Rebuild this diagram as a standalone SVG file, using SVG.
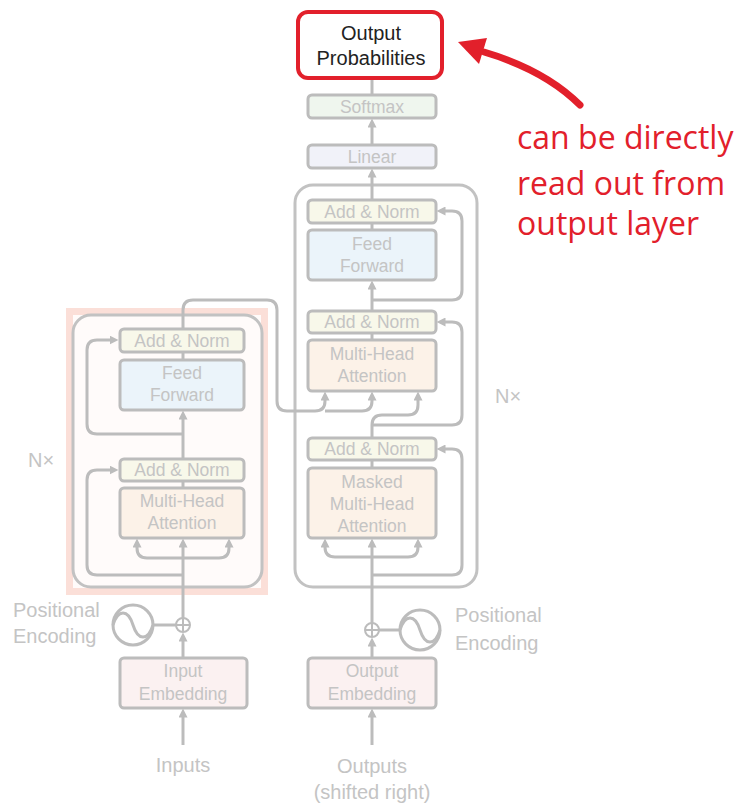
<svg xmlns="http://www.w3.org/2000/svg" width="741" height="803" viewBox="0 0 741 803">
<style>
.box{stroke:#bcbcbc;stroke-width:3}
.an{fill:#f8f8ea}
.ff{fill:#ebf4fa}
.mha{fill:#fcf2e8}
.emb{fill:#fbf1f1}
.outer{fill:none;stroke:#c2c2c2;stroke-width:3}
.t{font-family:"Liberation Sans",Arial,sans-serif;font-size:17.5px;fill:#c4c4c4;text-anchor:middle}
.lbl{font-family:"Liberation Sans",Arial,sans-serif;font-size:20px;fill:#c4c4c4}
.c{fill:none;stroke:#bcbcbc;stroke-width:3}
.red{font-family:"Open Sans",sans-serif;font-size:32px;fill:#e2202b}
</style>
<defs>
<marker id="ah" viewBox="0 0 10 10" refX="5" refY="5" markerWidth="9" markerHeight="9" markerUnits="userSpaceOnUse" orient="auto">
<path d="M0,0 L10,5 L0,10 z" fill="#bcbcbc"/>
</marker>
</defs>
<rect width="741" height="803" fill="#ffffff"/>

<g id="encoder-highlight">
<rect x="69.5" y="311.5" width="195" height="280" fill="#fffbfa" stroke="#fbdfd8" stroke-width="7"/>
</g>
<g id="encoder-outer"><rect class="outer" x="73" y="315" width="189" height="272" rx="18"/></g>
<g id="decoder-outer"><rect class="outer" x="295" y="185" width="182" height="402" rx="18"/></g>

<g id="connectors">
<path class="c" d="M183,745 V713" marker-end="url(#ah)"/>
<path class="c" d="M183,658 V637" marker-end="url(#ah)"/>
<path class="c" d="M183,618 V543" marker-end="url(#ah)"/>
<path class="c" d="M183,558 H147 Q137,558 137,548 V543" marker-end="url(#ah)"/>
<path class="c" d="M183,558 H219 Q229,558 229,548 V543" marker-end="url(#ah)"/>
<path class="c" d="M183,575 H97 Q87,575 87,565 V480 Q87,470 97,470 H114" marker-end="url(#ah)"/>
<path class="c" d="M183,488 V481"/>
<path class="c" d="M183,459 V415" marker-end="url(#ah)"/>
<path class="c" d="M183,434 H97 Q87,434 87,424 V350 Q87,340 97,340 H114" marker-end="url(#ah)"/>
<path class="c" d="M183,360 V352"/>
<path class="c" d="M183,329 V310 Q183,300 193,300 H267 Q277,300 277,310 V401 Q277,411 287,411 H315 Q325,411 325,401 V396" marker-end="url(#ah)"/>
<path class="c" d="M325,411 H362 Q372,411 372,401 V396" marker-end="url(#ah)"/>
<path class="c" d="M153,625 H176"/>
<path class="c" d="M372,745 V713" marker-end="url(#ah)"/>
<path class="c" d="M372,658 V642" marker-end="url(#ah)"/>
<path class="c" d="M372,623 V543" marker-end="url(#ah)"/>
<path class="c" d="M372,557 H335 Q325,557 325,547 V543" marker-end="url(#ah)"/>
<path class="c" d="M372,557 H408 Q418,557 418,547 V543" marker-end="url(#ah)"/>
<path class="c" d="M372,575 H452 Q462,575 462,565 V459 Q462,449 452,449 H441" marker-end="url(#ah)"/>
<path class="c" d="M372,468 V460"/>
<path class="c" d="M372,438 V425 Q372,415 382,415 H408 Q418,415 418,405 V396" marker-end="url(#ah)"/>
<path class="c" d="M372,425 H452 Q462,425 462,415 V332 Q462,322 452,322 H441" marker-end="url(#ah)"/>
<path class="c" d="M372,340 V333"/>
<path class="c" d="M372,311 V285" marker-end="url(#ah)"/>
<path class="c" d="M372,300 H452 Q462,300 462,290 V221 Q462,211 452,211 H441" marker-end="url(#ah)"/>
<path class="c" d="M372,230 V223"/>
<path class="c" d="M372,200 V173" marker-end="url(#ah)"/>
<path class="c" d="M372,145 V123" marker-end="url(#ah)"/>
<path class="c" d="M372,95 V78"/>
<path class="c" d="M379,630 H400"/>
</g>

<g id="enc-add-norm-2"><rect class="box an" x="120" y="329" width="124" height="23" rx="4"/><text class="t" x="182" y="347">Add &amp; Norm</text></g>
<g id="enc-feed-forward"><rect class="box ff" x="120" y="360" width="124" height="50" rx="4"/><text class="t" x="182" y="379">Feed</text><text class="t" x="182" y="401">Forward</text></g>
<g id="enc-add-norm-1"><rect class="box an" x="120" y="459" width="124" height="22" rx="4"/><text class="t" x="182" y="476">Add &amp; Norm</text></g>
<g id="enc-mha"><rect class="box mha" x="120" y="488" width="124" height="50" rx="4"/><text class="t" x="182" y="507">Multi-Head</text><text class="t" x="182" y="529">Attention</text></g>
<g id="input-embedding"><rect class="box emb" x="120" y="658" width="127" height="50" rx="4"/><text class="t" x="183" y="677">Input</text><text class="t" x="183" y="700">Embedding</text></g>

<g id="enc-pos-enc">
<circle cx="133" cy="625" r="20" fill="#ffffff" stroke="#bcbcbc" stroke-width="3"/>
<path d="M113,625 C118,609 128,609 133,625 C138,641 148,641 153,625" fill="none" stroke="#bcbcbc" stroke-width="3"/>
<text class="lbl" x="13" y="617">Positional</text>
<text class="lbl" x="13" y="643">Encoding</text>
</g>
<g id="enc-add">
<circle cx="183" cy="625" r="7" fill="#ffffff" stroke="#bcbcbc" stroke-width="2"/>
<path d="M176,625 H190 M183,618 V632" stroke="#bcbcbc" stroke-width="2"/>
</g>

<g id="dec-add-norm-3"><rect class="box an" x="308" y="200" width="128" height="23" rx="4"/><text class="t" x="372" y="218">Add &amp; Norm</text></g>
<g id="dec-feed-forward"><rect class="box ff" x="308" y="230" width="128" height="50" rx="4"/><text class="t" x="372" y="250">Feed</text><text class="t" x="372" y="272">Forward</text></g>
<g id="dec-add-norm-2"><rect class="box an" x="308" y="311" width="128" height="22" rx="4"/><text class="t" x="372" y="328">Add &amp; Norm</text></g>
<g id="dec-mha"><rect class="box mha" x="308" y="340" width="128" height="51" rx="4"/><text class="t" x="372" y="360">Multi-Head</text><text class="t" x="372" y="382">Attention</text></g>
<g id="dec-add-norm-1"><rect class="box an" x="308" y="438" width="128" height="22" rx="4"/><text class="t" x="372" y="455">Add &amp; Norm</text></g>
<g id="dec-masked-mha"><rect class="box mha" x="308" y="468" width="128" height="70" rx="4"/><text class="t" x="372" y="488">Masked</text><text class="t" x="372" y="510">Multi-Head</text><text class="t" x="372" y="532">Attention</text></g>
<g id="output-embedding"><rect class="box emb" x="308" y="658" width="128" height="50" rx="4"/><text class="t" x="372" y="677">Output</text><text class="t" x="372" y="700">Embedding</text></g>
<g id="linear"><rect class="box" fill="#f1f2f9" x="308" y="145" width="128" height="23" rx="4"/><text class="t" x="372" y="163">Linear</text></g>
<g id="softmax"><rect class="box" fill="#eff6ee" x="308" y="95" width="128" height="23" rx="4"/><text class="t" x="372" y="113">Softmax</text></g>

<g id="dec-add">
<circle cx="372" cy="630" r="7" fill="#ffffff" stroke="#bcbcbc" stroke-width="2"/>
<path d="M365,630 H379 M372,623 V637" stroke="#bcbcbc" stroke-width="2"/>
</g>
<g id="dec-pos-enc">
<circle cx="420" cy="630" r="20" fill="#ffffff" stroke="#bcbcbc" stroke-width="3"/>
<path d="M400,630 C405,614 415,614 420,630 C425,646 435,646 440,630" fill="none" stroke="#bcbcbc" stroke-width="3"/>
<text class="lbl" x="455" y="622">Positional</text>
<text class="lbl" x="455" y="650">Encoding</text>
</g>

<g id="labels">
<text class="lbl" x="183" y="772" text-anchor="middle">Inputs</text>
<text class="lbl" x="372" y="773" text-anchor="middle">Outputs</text>
<text class="lbl" x="372" y="799" text-anchor="middle">(shifted right)</text>
<text class="lbl" x="28" y="467">N×</text>
<text class="lbl" x="495" y="403">N×</text>
</g>

<g id="output-probabilities">
<rect x="298" y="12" width="144" height="66" rx="10" fill="#ffffff" stroke="#e2202b" stroke-width="4"/>
<text x="371" y="40" font-family="'Liberation Sans',Arial,sans-serif" font-size="20" fill="#222222" text-anchor="middle">Output</text>
<text x="371" y="65" font-family="'Liberation Sans',Arial,sans-serif" font-size="20" fill="#222222" text-anchor="middle">Probabilities</text>
</g>

<g id="annotation">
<path d="M580,105 Q545,70 484,52" fill="none" stroke="#e2202b" stroke-width="7" stroke-linecap="round"/>
<polygon points="458,42 487,38 479,64" fill="#e2202b"/>
<text class="red" x="517" y="149">can be directly</text>
<text class="red" x="517" y="195">read out from</text>
<text class="red" x="517" y="235">output layer</text>
</g>
</svg>
